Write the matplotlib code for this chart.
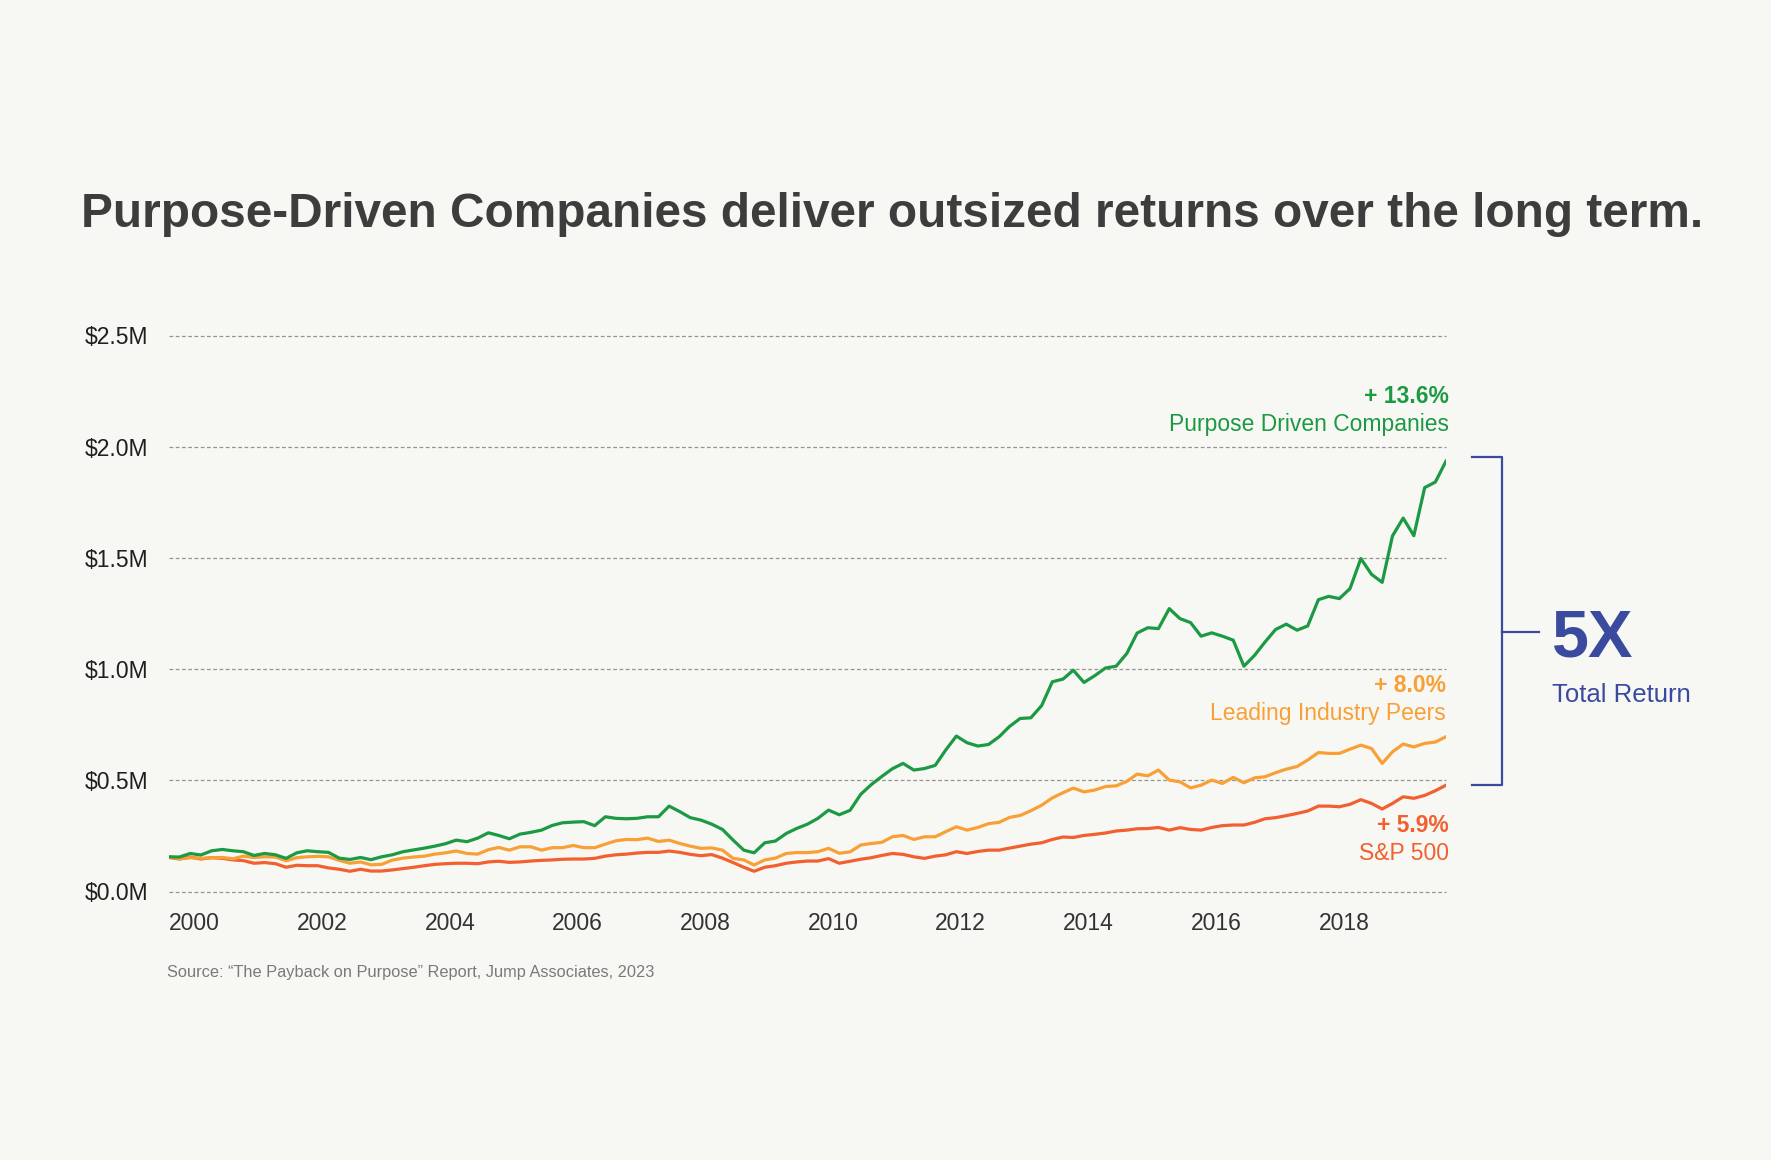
import matplotlib
matplotlib.use("Agg")
import matplotlib.pyplot as plt
import matplotlib.transforms as mtransforms
from matplotlib.ticker import FuncFormatter
from matplotlib import font_manager
import pandas as pd

# Value of the investment in $M, read every 2 months, Jan 2000 .. Jan 2020
dates = pd.date_range("2000-01-01", "2020-01-01", freq="2MS")

purposeDriven = [
    0.156, 0.155, 0.171, 0.164, 0.183, 0.189, 0.183, 0.179, 0.162, 0.171,
    0.165, 0.149, 0.174, 0.183, 0.179, 0.176, 0.150, 0.144, 0.153, 0.143,
    0.156, 0.165, 0.179, 0.187, 0.195, 0.204, 0.215, 0.231, 0.224, 0.240,
    0.264, 0.252,
    0.237, 0.258, 0.266, 0.276, 0.297, 0.309, 0.312, 0.314, 0.296, 0.336,
    0.329, 0.327, 0.329, 0.336, 0.336, 0.384, 0.359, 0.332, 0.321, 0.303,
    0.279, 0.231, 0.186, 0.174, 0.219, 0.227, 0.261, 0.284, 0.303, 0.329,
    0.366,
    0.345, 0.365, 0.437, 0.481, 0.517, 0.552, 0.576, 0.546, 0.553, 0.567,
    0.636, 0.699, 0.669, 0.654, 0.661, 0.696, 0.742, 0.778, 0.781, 0.836,
    0.943, 0.955, 0.995, 0.940, 0.970, 1.005, 1.013, 1.070, 1.162, 1.186,
    1.182, 1.272, 1.227, 1.209, 1.148, 1.163, 1.148, 1.130, 1.013, 1.062,
    1.121, 1.178, 1.202, 1.175, 1.194, 1.312, 1.327, 1.317, 1.362, 1.497,
    1.426, 1.390, 1.599, 1.679, 1.600, 1.816, 1.841, 1.935,
]
industryPeers = [
    0.156, 0.147, 0.152, 0.149, 0.152, 0.153, 0.147, 0.159, 0.153, 0.156,
    0.155, 0.138, 0.152, 0.156, 0.158, 0.156, 0.140, 0.127, 0.133, 0.120,
    0.122, 0.141, 0.150, 0.155, 0.159, 0.168, 0.174, 0.182, 0.171, 0.168,
    0.188, 0.198,
    0.186, 0.201, 0.201, 0.186, 0.197, 0.197, 0.207, 0.197, 0.197, 0.213,
    0.228, 0.234, 0.233, 0.240, 0.225, 0.231, 0.216, 0.204, 0.194, 0.196,
    0.186, 0.149, 0.142, 0.119, 0.142, 0.150, 0.171, 0.175, 0.175, 0.179,
    0.194,
    0.172, 0.178, 0.209, 0.216, 0.221, 0.246, 0.252, 0.234, 0.246, 0.246,
    0.269, 0.291, 0.276, 0.288, 0.305, 0.311, 0.333, 0.342, 0.363, 0.388,
    0.421, 0.444, 0.465, 0.448, 0.456, 0.472, 0.475, 0.495, 0.528, 0.520,
    0.546, 0.501, 0.493, 0.466, 0.478, 0.501, 0.486, 0.513, 0.489, 0.511,
    0.516, 0.534, 0.550, 0.562, 0.591, 0.625, 0.621, 0.621, 0.640, 0.658,
    0.643, 0.576, 0.628, 0.663, 0.650, 0.666, 0.672, 0.696,
]
sp500 = [
    0.153, 0.146, 0.155, 0.146, 0.152, 0.149, 0.142, 0.139, 0.127, 0.130,
    0.125, 0.109, 0.118, 0.116, 0.116, 0.106, 0.100, 0.091, 0.100, 0.092,
    0.092, 0.097, 0.103, 0.109, 0.116, 0.122, 0.125, 0.127, 0.127, 0.125,
    0.133, 0.136,
    0.131, 0.133, 0.137, 0.140, 0.142, 0.145, 0.146, 0.146, 0.149, 0.159,
    0.165, 0.168, 0.173, 0.176, 0.176, 0.182, 0.176, 0.167, 0.161, 0.166,
    0.150, 0.130, 0.109, 0.091, 0.109, 0.116, 0.127, 0.133, 0.137, 0.137,
    0.148,
    0.127, 0.136, 0.145, 0.152, 0.162, 0.171, 0.167, 0.156, 0.149, 0.159,
    0.165, 0.179, 0.171, 0.180, 0.186, 0.186, 0.195, 0.204, 0.213, 0.219,
    0.234, 0.245, 0.243, 0.252, 0.257, 0.263, 0.272, 0.276, 0.282, 0.283,
    0.288, 0.276, 0.287, 0.279, 0.276, 0.288, 0.296, 0.299, 0.299, 0.311,
    0.327, 0.332, 0.341, 0.351, 0.362, 0.384, 0.384, 0.381, 0.392, 0.413,
    0.396, 0.371, 0.396, 0.426, 0.419, 0.432, 0.453, 0.478,
]

seriesNames = ["Purpose Driven Companies", "Leading Industry Peers", "S&P 500"]
annualReturns = ["+ 13.6%", "+ 8.0%", "+ 5.9%"]
yTicks = [0.0, 0.5, 1.0, 1.5, 2.0, 2.5]
xTickLabels = ["2000", "2002", "2004", "2006", "2008", "2010", "2012", "2014", "2016", "2018"]

title = "Purpose-Driven Companies deliver outsized returns over the long term."
source = "Source: \u201cThe Payback on Purpose\u201d Report, Jump Associates, 2023"

bg = "#f7f7f3"
green = "#1b9a43"
orange = "#f8a035"
red = "#f1602e"
navy = "#3a4a9e"

installed = {f.name for f in font_manager.fontManager.ttflist}
titleFont = "Liberation Sans Narrow" if "Liberation Sans Narrow" in installed else "Liberation Sans"
plt.rcParams["font.family"] = ["Liberation Sans", "DejaVu Sans"]

W, H = 1771, 1160
fig = plt.figure(figsize=(W / 100, H / 100), dpi=100, facecolor=bg)

# pixel position in the picture -> figure fraction
def fx(x):
    return x / W

def fy(y):
    return 1 - y / H

ax = fig.add_axes([fx(169), fy(891.5), (1446 - 169) / W, (891.5 - 335.5) / H])
ax.set_facecolor(bg)

for values, color in zip([sp500, industryPeers, purposeDriven], [red, orange, green]):
    ax.plot(dates, values, color=color, linewidth=2.3, zorder=3)

ax.set_xlim(pd.Timestamp("2000-01-01"), pd.Timestamp("2020-01-01"))
ax.set_ylim(0, 2.5)
ax.set_yticks(yTicks)
ax.yaxis.set_major_formatter(FuncFormatter(lambda v, p: "$%.1fM" % v))
ax.set_xticks(pd.to_datetime(xTickLabels))
ax.set_xticklabels(xTickLabels, ha="left")

ax.tick_params(axis="y", length=0, pad=15, labelsize=16.5, labelcolor="#1f1f1f")
ax.tick_params(axis="x", length=0, pad=14.5, labelsize=16.5, labelcolor="#333333")
ax.grid(axis="y", color="#949494", linestyle=(0, (3, 2)), linewidth=0.9)
ax.grid(axis="x", visible=False)
ax.set_axisbelow(True)
for s in ax.spines.values():
    s.set_visible(False)
# keep the $0 and $2.5M dashes whole at the edges
for gl in ax.get_ygridlines():
    gl.set_clip_on(False)

# title, squeezed to the width it has in the original
t = fig.text(fx(81), fy(227), title, fontsize=38, fontweight="bold", family=titleFont,
             color="#3d3d3d", ha="left", va="baseline")
fig.canvas.draw()
bb = t.get_window_extent()
t.set_fontsize(38 * 1619 / bb.width)

fig.text(fx(167), fy(976.5), source, fontsize=11.8, color="#7a7a7a", ha="left", va="baseline")

# end labels
labelBase = [(403, 431.5), (691.5, 720), (831.5, 860)]
labelRight = [1449, 1445.5, 1449]
for name, ret, color, (y1, y2), xr in zip(seriesNames, annualReturns, [green, orange, red],
                                          labelBase, labelRight):
    fig.text(fx(xr), fy(y1), ret, fontsize=16.5, fontweight="bold", color=color,
             ha="right", va="baseline")
    fig.text(fx(xr), fy(y2), name, fontsize=16.5, color=color, ha="right", va="baseline")

# bracket from the S&P 500 end to the purpose-driven end, tick pointing at "5X"
trans = mtransforms.blended_transform_factory(ax.transAxes, ax.transData)
top = purposeDriven[-1] + 0.02
bottom = sp500[-1]
x0, x1, x2 = 1.0204, 1.0439, 1.0732
ax.plot([x0, x1, x1, x0], [top, top, bottom, bottom], color=navy, linewidth=1.6,
        transform=trans, clip_on=False)
tickY = ax.transData.inverted().transform((0, H - 631.5))[1]
ax.plot([x1, x2], [tickY, tickY], color=navy, linewidth=1.6, transform=trans, clip_on=False)

fig.text(fx(1552), fy(656.5), "5X", fontsize=48, fontweight="bold", color=navy,
         ha="left", va="baseline")
fig.text(fx(1552), fy(701.5), "Total Return", fontsize=18.5, color=navy,
         ha="left", va="baseline")

fig.savefig("out.png", dpi=100, facecolor=bg)
